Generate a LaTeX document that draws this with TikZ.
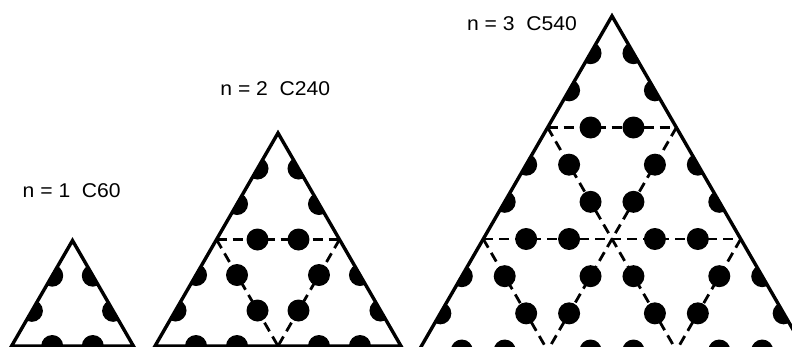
\documentclass[tikz,border=0pt]{standalone}
\usepackage{fontspec}
\setmainfont{Liberation Sans}
\usetikzlibrary{calc}
\tikzset{
  outline/.style={line width=3.4bp, line join=miter},
  gridline/.style={line width=2.8bp, dash pattern=on 10bp off 6bp},
  dotfill/.style={fill=black},
  lbl/.style={anchor=base west, inner sep=0pt, font=\fontsize{20}{22}\selectfont, xscale=1.06}
}
% #1 name, #2 apex x, #3 apex y, #4 order n, #5 unit height
\newcommand{\trigrid}[5]{%
  \pgfmathsetmacro{\trS}{#5*2/sqrt(3)}
  \foreach \i in {0,...,#4} {
    \foreach \j in {0,...,\i} {
      \coordinate (#1-\i-\j) at ({#2+(\j-\i/2)*\trS}, {#3+\i*#5});
    }
  }
  \pgfmathtruncatemacro{\trM}{#4-1}
  \begin{scope}
    \clip (#1-0-0) -- (#1-#4-0) -- (#1-#4-#4) -- cycle;
    \foreach \i in {0,...,\trM} {
      \foreach \j in {0,...,\i} {
        \pgfmathtruncatemacro{\ii}{\i+1}
        \pgfmathtruncatemacro{\jj}{\j+1}
        \fill[dotfill] ($(#1-\i-\j)!1/3!(#1-\ii-\j)$) circle[radius=11];
        \fill[dotfill] ($(#1-\i-\j)!2/3!(#1-\ii-\j)$) circle[radius=11];
        \fill[dotfill] ($(#1-\i-\j)!1/3!(#1-\ii-\jj)$) circle[radius=11];
        \fill[dotfill] ($(#1-\i-\j)!2/3!(#1-\ii-\jj)$) circle[radius=11];
        \fill[dotfill] ($(#1-\ii-\j)!1/3!(#1-\ii-\jj)$) circle[radius=11];
        \fill[dotfill] ($(#1-\ii-\j)!2/3!(#1-\ii-\jj)$) circle[radius=11];
      }
    }
  \end{scope}
  \ifnum#4>1
    \foreach \k in {1,...,\trM} {
      \pgfmathtruncatemacro{\kk}{#4-\k}
      \draw[gridline] (#1-\k-0) -- (#1-\k-\k);
      \draw[gridline] (#1-\k-\k) -- (#1-#4-\k);
      \draw[gridline] (#1-\k-0) -- (#1-#4-\kk);
    }
  \fi
  \draw[outline] (#1-0-0) -- (#1-#4-0) -- (#1-#4-#4) -- cycle;
}
\begin{document}
\begin{tikzpicture}[x=1bp,y=-1bp]
  \clip (0,0) rectangle (792,346);
  \trigrid{A}{72.5}{240.5}{1}{105.5}
  \trigrid{B}{278}{133}{2}{106.5}
  \trigrid{C}{612}{16}{3}{111.5}
  \node[lbl] (lab1) at (22.5,197) {n = 1~~C60};
  \node[lbl] (lab2) at (220.2,95) {n = 2~~C240};
  \node[lbl] (lab3) at (466.8,30) {n = 3~~C540};
\end{tikzpicture}
\end{document}
